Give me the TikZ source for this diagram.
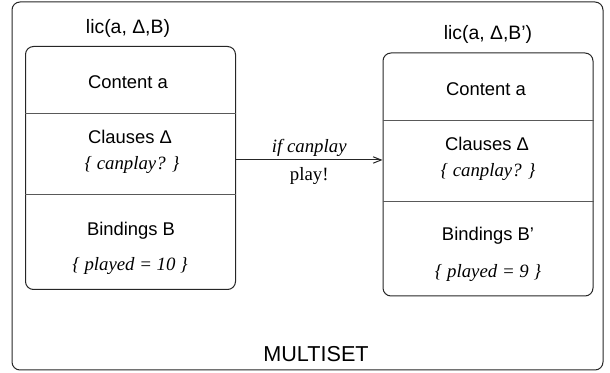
\documentclass[tikz,border=0pt]{standalone}
\usepackage{fontspec}
\setmainfont{Liberation Serif}
\setsansfont{Liberation Sans}
\usetikzlibrary{arrows.meta}
\begin{document}
\begin{tikzpicture}[x=0.5pt,y=-0.5pt]
        		\tikzstyle{multiset}=[draw=black!85,line width=0.5pt,rounded corners=4pt,minimum width=295.5pt,minimum height=184pt,inner sep=0pt]
        		\tikzstyle{licbox}=[draw=black!85,line width=0.5pt,rounded corners=4pt,minimum width=105pt,minimum height=121.5pt,inner sep=0pt]
        		\tikzstyle{divider}=[draw=black!65,line width=0.5pt]
        		\tikzstyle{sftext}=[font=\sffamily\fontsize{9.2}{11}\selectfont,inner sep=0pt]
        		\tikzstyle{ittext}=[font=\itshape\fontsize{9.4}{11}\selectfont,inner sep=0pt]
        		\tikzstyle{edge}=[draw=black!85,line width=0.5pt,-{Straight Barb[length=4pt,width=3.2pt]}]
        		\useasboundingbox (0,0) rectangle (610,373);
       			\begin{scope}
			        \node [multiset] (ms) at (307.5,186) {};
			        \node [sftext,font=\sffamily\fontsize{10.8}{13}\selectfont] (mslabel) at (316,354) {MULTISET};
			        % left license
			        \node [licbox] (lbox) at (130.5,168) {};
			        \node [sftext,font=\sffamily\fontsize{9.7}{12}\selectfont] (llic) at (128,28) {lic(a, Δ,B)};
			        \node [sftext] (lcont) at (128,82) {Content a};
			        \node [sftext] (lcl) at (130,137) {Clauses Δ};
			        \node [ittext] (lcan) at (132,165) {\{ canplay? \}};
			        \node [sftext] (lbind) at (131,231) {Bindings B};
			        \node [ittext] (lplay) at (130,266) {\{ played = 10 \}};
			        \path[divider] (lbox.west |- 0,114) -- (lbox.east |- 0,114);
			        \path[divider] (lbox.west |- 0,195) -- (lbox.east |- 0,195);
			        % right license
			        \node [licbox] (rbox) at (488,174.5) {};
			        \node [sftext,font=\sffamily\fontsize{9.7}{12}\selectfont] (rlic) at (488,34) {lic(a, Δ,B’)};
			        \node [sftext] (rcont) at (486,89) {Content a};
			        \node [sftext] (rcl) at (487,144) {Clauses Δ};
			        \node [ittext] (rcan) at (488,172) {\{ canplay? \}};
			        \node [sftext] (rbind) at (488,236) {Bindings B’};
			        \node [ittext] (rplay) at (488,273) {\{ played = 9 \}};
			        \path[divider] (rbox.west |- 0,121) -- (rbox.east |- 0,121);
			        \path[divider] (rbox.west |- 0,202) -- (rbox.east |- 0,202);
			        % transition
			        \coordinate (tr) at (0,160);
			        \path[edge] (lbox.east |- tr) -- (rbox.west |- tr)
			            node[midway,above=1.5pt,ittext] (cond) {if canplay}
			            node[midway,below=3.5pt,font=\fontsize{9.4}{11}\selectfont,inner sep=0pt] (act) {play!};
        		\end{scope}
      		\end{tikzpicture}
\end{document}
